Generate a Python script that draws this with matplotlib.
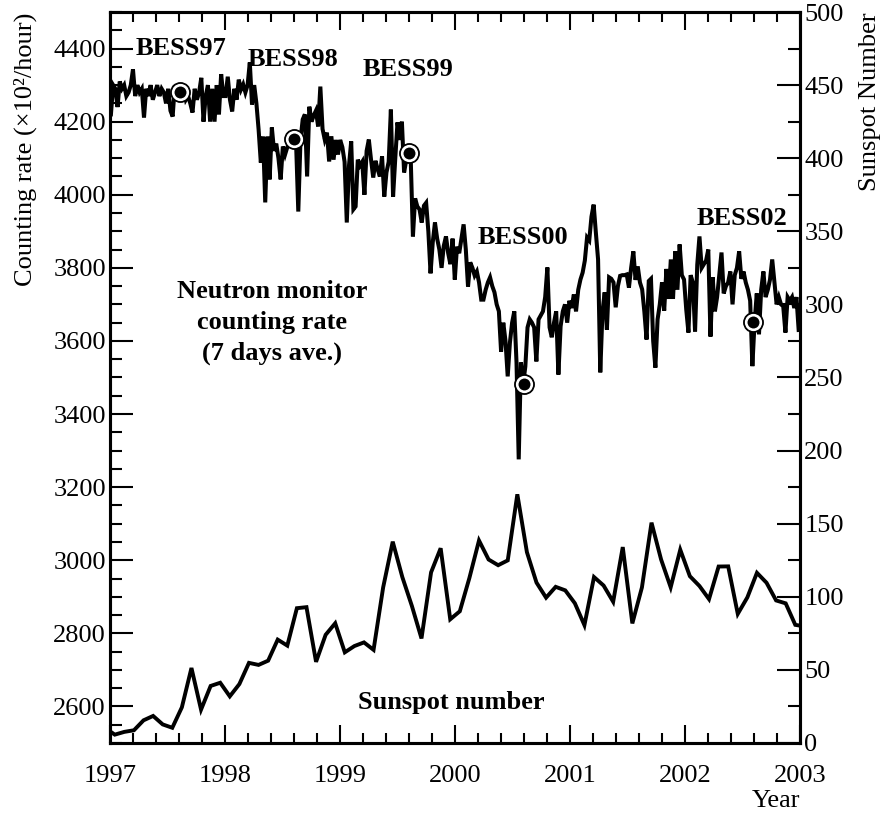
import numpy as np
import pandas as pd
import matplotlib
matplotlib.use("Agg")
import matplotlib.pyplot as plt
from matplotlib.ticker import MultipleLocator

plt.rcParams["font.family"] = ["Liberation Serif", "DejaVu Serif"]

# Neutron monitor counting rate, 7-day averages (x10^2 counts/hour), weekly from 1997-01-04
rate_1997 = [4220, 4300, 4290, 4240, 4310, 4290, 4300, 4270, 4280, 4300,
             4343, 4270, 4300, 4280, 4290, 4211, 4290, 4270, 4300, 4260,
             4280, 4300, 4270, 4290, 4280, 4250, 4290, 4230, 4214, 4300,
             4280, 4282, 4270, 4290, 4260, 4270, 4250, 4225, 4290, 4260,
             4280, 4320, 4200, 4270, 4300, 4200, 4290, 4200, 4300, 4220,
             4330, 4270]
rate_1998 = [4270, 4323, 4260, 4228, 4290, 4260, 4315, 4288, 4302, 4280,
             4300, 4362, 4247, 4300, 4250, 4178, 4088, 4159, 3979, 4159,
             4042, 4184, 4120, 4140, 4100, 4042, 4132, 4110, 4130, 4140,
             4151, 4160, 4140, 3954, 4150, 4206, 4220, 4050, 4241, 4200,
             4217, 4230, 4187, 4296, 4180, 4151, 4170, 4091, 4160, 4096,
             4150, 4110]
rate_1999 = [4150, 4130, 4090, 3924, 4080, 4146, 3960, 3968, 4096, 4080,
             4090, 4000, 4120, 4151, 4096, 4047, 4093, 4070, 4050, 4105,
             3995, 4061, 4090, 4233, 3995, 4100, 4198, 4150, 4200, 4061,
             4096, 4113, 4100, 3886, 3990, 3968, 3960, 3924, 3970, 3978,
             3900, 3785, 3870, 3924, 3880, 3850, 3800, 3860, 3886, 3840,
             3810, 3880]
rate_2000 = [3768, 3858, 3840, 3880, 3919, 3850, 3749, 3815, 3800, 3779,
             3790, 3760, 3713, 3713, 3740, 3760, 3774, 3750, 3733, 3700,
             3681, 3571, 3650, 3600, 3503, 3595, 3650, 3681, 3541, 3276,
             3541, 3481, 3530, 3637, 3659, 3650, 3637, 3544, 3659, 3670,
             3681, 3720, 3801, 3637, 3610, 3650, 3681, 3508, 3640, 3681,
             3700, 3650]
rate_2001 = [3710, 3690, 3727, 3681, 3740, 3768, 3787, 3820, 3883, 3875,
             3940, 3973, 3896, 3823, 3514, 3680, 3733, 3631, 3774, 3770,
             3760, 3692, 3750, 3778, 3780, 3780, 3782, 3746, 3800, 3845,
             3767, 3804, 3760, 3741, 3680, 3604, 3764, 3770, 3600, 3527,
             3659, 3700, 3760, 3683, 3797, 3715, 3823, 3715, 3845, 3740,
             3864, 3780]
rate_2002 = [3768, 3686, 3623, 3780, 3760, 3626, 3809, 3886, 3800, 3810,
             3820, 3850, 3612, 3774, 3681, 3720, 3780, 3842, 3730, 3750,
             3760, 3790, 3700, 3780, 3800, 3845, 3770, 3790, 3760, 3740,
             3710, 3531, 3651, 3730, 3618, 3740, 3790, 3720, 3740, 3768,
             3823, 3760, 3700, 3720, 3700, 3695, 3623, 3720, 3710, 3720,
             3690, 3720, 3630]

# Monthly sunspot number, Dec 1996 .. Jan 2003
sunspot = [10.3,
           5.7, 7.6, 8.7, 15.5, 18.5, 12.7, 10.4, 24.4, 51.3, 22.8, 39.0, 41.2,
           31.9, 40.3, 54.8, 53.4, 56.3, 70.7, 66.6, 92.2, 92.9, 55.5, 74.0, 81.9,
           62.0, 66.3, 68.8, 63.7, 106.4, 137.7, 113.5, 93.7, 71.5, 116.7, 133.2, 84.6,
           90.1, 112.9, 138.5, 125.5, 121.6, 124.9, 170.1, 130.5, 109.7, 99.4, 106.8, 104.4,
           95.6, 80.6, 113.5, 107.7, 96.6, 134.0, 81.8, 106.4, 150.7, 125.5, 106.5, 132.2,
           114.1, 107.4, 98.4, 120.7, 120.8, 88.3, 99.6, 116.4, 109.6, 97.5, 95.5, 80.8,
           79.7]

# BESS balloon flights
flight_labels = ["BESS97", "BESS98", "BESS99", "BESS00", "BESS02"]
flight_time = [1997.61, 1998.60, 1999.60, 2000.60, 2002.59]
flight_rate = [4280, 4152, 4113, 3481, 3651]
flight_label_x = [1997.22, 1998.20, 1999.20, 2000.20, 2002.10]
flight_label_y = [4400, 4370, 4343, 3883, 3935]

year_ticks = [1997, 1998, 1999, 2000, 2001, 2002, 2003]

# ---- time axes ----
rate = np.array(rate_1997 + rate_1998 + rate_1999 + rate_2000 + rate_2001 + rate_2002, float)
weeks = pd.date_range("1997-01-04", periods=len(rate), freq="7D")
t_week = 1997 + (weeks - pd.Timestamp("1997-01-01")).days.values / 365.25
t_month = 1997 + (np.arange(len(sunspot)) - 1 + 0.5) / 12.0

fig = plt.figure(figsize=(8.87, 8.17), dpi=100)
ax = fig.add_axes([0.124, 0.0906, 0.778, 0.8947])
ax2 = ax.twinx()

ax.plot(t_week, rate, color="black", lw=2.9, solid_joinstyle="miter", zorder=3)
ax.plot(flight_time, flight_rate, "o", ms=14, color="black", zorder=4)
ax.plot(flight_time, flight_rate, "o", ms=10.5, mfc="black", mec="white", mew=1.9, zorder=5)

ax2.plot(t_month, sunspot, color="black", lw=2.8, solid_joinstyle="miter")

ax.set_xlim(1997, 2003)
ax.set_ylim(2500, 4500)
ax2.set_ylim(0, 500)

ax.set_xticks(year_ticks)
ax.set_xticklabels([str(y) for y in year_ticks])
ax.xaxis.set_minor_locator(MultipleLocator(0.2))
ax.yaxis.set_major_locator(MultipleLocator(200))
ax.yaxis.set_minor_locator(MultipleLocator(50))
ax2.yaxis.set_major_locator(MultipleLocator(50))
ax2.yaxis.set_minor_locator(MultipleLocator(25))

fs = 19
ax.tick_params(axis="x", which="both", direction="in", top=True, bottom=True,
               labelsize=fs, pad=16, width=1.5)
ax.tick_params(axis="x", which="major", length=13)
ax.tick_params(axis="x", which="minor", length=7)
ax.tick_params(axis="y", which="both", direction="in", left=True, right=False,
               labelsize=fs, pad=3, width=1.5)
ax.tick_params(axis="y", which="major", length=16.5)
ax.tick_params(axis="y", which="minor", length=8.5)
ax2.tick_params(axis="y", which="both", direction="in", left=False, right=True,
                labelsize=fs, pad=3, width=1.5)
ax2.tick_params(axis="y", which="major", length=16.5)
ax2.tick_params(axis="y", which="minor", length=8.5)

for a in (ax, ax2):
    for s in a.spines.values():
        s.set_linewidth(2.2)

# axis titles
fig.text(0.028, 0.985, "Counting rate (×10²/hour)", rotation=90,
         ha="center", va="top", fontsize=fs)
fig.text(0.981, 0.985, "Sunspot Number", rotation=90,
         ha="center", va="top", fontsize=fs)
fig.text(0.902, 0.019, "Year", ha="right", va="center", fontsize=fs)

# annotations
for lab, x, y in zip(flight_labels, flight_label_x, flight_label_y):
    ax.text(x, y, lab, ha="left", va="center", fontsize=fs, fontweight="bold")

ax.text(1998.41, 3650, "Neutron monitor\ncounting rate\n(7 days ave.)",
        ha="center", va="center", multialignment="center",
        fontsize=fs, fontweight="bold", linespacing=1.42)
ax.text(1999.965, 2610, "Sunspot number", ha="center", va="center",
        fontsize=fs, fontweight="bold")

fig.savefig("out.png", dpi=100)
